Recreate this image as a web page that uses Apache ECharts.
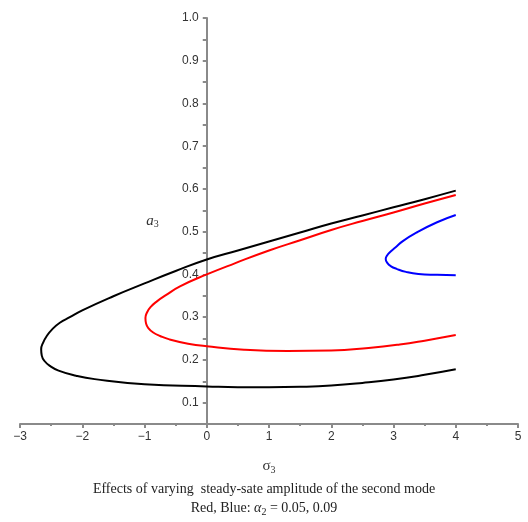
<!DOCTYPE html>
<html><head><meta charset="utf-8">
<script src="https://cdn.jsdelivr.net/npm/echarts@6/dist/echarts.min.js"></script>
<style>html,body{margin:0;padding:0;background:#fff}#c{width:528px;height:522px}</style>
</head><body><div id="c"></div>
<script>
// Data (sigma3, a3)
const blackCurve = [[4.0,0.596],[3.5,0.576],[3.0,0.557],[2.5,0.538],[2.0,0.519],[1.5,0.498],[1.0,0.477],[0.5,0.456],[0,0.435],[-0.5,0.408],[-1.0,0.379],[-1.5,0.349],[-2.0,0.316],[-2.2,0.300],[-2.36,0.287],[-2.48,0.272],[-2.57,0.256],[-2.63,0.240],[-2.66,0.225],[-2.65,0.210],[-2.61,0.198],[-2.52,0.186],[-2.38,0.175],[-2.1,0.163],[-1.8,0.155],[-1.0,0.143],[0,0.138],[0.5,0.136],[1.0,0.136],[1.5,0.137],[2.0,0.140],[2.5,0.146],[3.0,0.154],[3.5,0.165],[4.0,0.178]];
const redCurve = [[4.0,0.586],[3.5,0.566],[3.0,0.545],[2.5,0.525],[2.0,0.504],[1.5,0.480],[1.0,0.456],[0.45,0.426],[0,0.400],[-0.43,0.372],[-0.65,0.352],[-0.8,0.337],[-0.9,0.324],[-0.96,0.311],[-0.985,0.298],[-0.975,0.285],[-0.935,0.274],[-0.86,0.264],[-0.75,0.256],[-0.6,0.248],[-0.3,0.238],[0,0.232],[0.6,0.224],[1.3,0.221],[2.0,0.222],[2.6,0.228],[3.1,0.236],[3.5,0.245],[4.0,0.258]];
const blueCurve = [[4.0,0.539],[3.7,0.522],[3.37,0.498],[3.15,0.478],[3.03,0.463],[2.95,0.453],[2.9,0.445],[2.875,0.436],[2.9,0.427],[2.96,0.419],[3.05,0.413],[3.2,0.406],[3.4,0.401],[3.7,0.399],[4.0,0.398]];
const yLabels = [0.1,0.2,0.3,0.4,0.5,0.6,0.7,0.8,0.9,1.0];
const yTicks = [0.1,0.15,0.2,0.25,0.3,0.35,0.4,0.45,0.5,0.55,0.6,0.65,0.7,0.75,0.8,0.85,0.9,0.95,1.0];
const xMin = -3, xMax = 5, yMin = 0.05, yMax = 1.0;

const W = 528, gLeft = 20, gRight = 10, gTop = 18, gBottom = 98;
const zeroPx = gLeft + (0 - xMin) / (xMax - xMin) * (W - gLeft - gRight);

const chart = echarts.init(document.getElementById('c'));
const axisGray = '#8a8a8a';
const labelStyle = {color:'#333', fontFamily:'Liberation Sans', fontSize:12};
const sub = {fontFamily:'Liberation Serif',fontSize:10,color:'#333',padding:[7,0,0,0]};
chart.setOption({
  animation:false,
  grid:[
    {left:gLeft,right:gRight,top:gTop,bottom:gBottom,outerBoundsMode:'none',containLabel:false},
    {left:zeroPx,width:1,top:gTop,bottom:gBottom,outerBoundsMode:'none',containLabel:false}
  ],
  title:{
    text:'Effects of varying  steady-sate amplitude of the second mode\nRed, Blue: {i|α}{s|2} = 0.05, 0.09',
    left:'center', top:475,
    textStyle:{fontFamily:'Liberation Serif', fontSize:14, fontWeight:'normal', color:'#222', lineHeight:19,
      rich:{i:{fontFamily:'Liberation Serif',fontStyle:'italic',fontSize:14,color:'#222'},
            s:{fontFamily:'Liberation Serif',fontSize:10,color:'#222',padding:[8,0,0,0]}}}
  },
  xAxis:[{
    gridIndex:0, type:'value', min:xMin, max:xMax, interval:1,
    axisLine:{onZero:false, lineStyle:{color:axisGray,width:2}},
    axisTick:{show:true, length:4, lineStyle:{color:axisGray,width:2}},
    minorTick:{show:true, splitNumber:2, length:2, lineStyle:{color:axisGray,width:2}},
    splitLine:{show:false},
    axisLabel:Object.assign({margin:7, formatter:v=>String(v).replace('-','\u2212')}, labelStyle),
    name:'{g|σ}{s|3}', nameLocation:'middle', nameGap:34,
    nameTextStyle:{rich:{g:{fontFamily:'Liberation Serif',fontSize:15,color:'#333'}, s:sub}}
  },{
    gridIndex:1, type:'value', min:0, max:1, show:false
  }],
  yAxis:[{
    gridIndex:0, type:'value', min:yMin, max:yMax, show:false
  },{
    gridIndex:1, type:'value', min:yMin, max:yMax,
    axisLine:{show:true, onZero:false, lineStyle:{color:axisGray,width:2}},
    axisTick:{show:true, length:4, customValues:yTicks, lineStyle:{color:axisGray,width:2}},
    splitLine:{show:false},
    axisLabel:Object.assign({margin:8, customValues:yLabels, formatter:v=>v.toFixed(1)}, labelStyle),
    name:'{a|a}{s|3}', nameLocation:'middle', nameGap:48, nameRotate:0,
    nameTextStyle:{rich:{a:{fontFamily:'Liberation Serif',fontStyle:'italic',fontSize:15,color:'#333'}, s:sub}}
  }],
  series:[
    {type:'line', xAxisIndex:0, yAxisIndex:0, data:blackCurve, smooth:0.5, showSymbol:false, lineStyle:{color:'#000',width:2}},
    {type:'line', xAxisIndex:0, yAxisIndex:0, data:redCurve, smooth:0.5, showSymbol:false, lineStyle:{color:'#ff0000',width:2}},
    {type:'line', xAxisIndex:0, yAxisIndex:0, data:blueCurve, smooth:0.5, showSymbol:false, lineStyle:{color:'#0000ff',width:2}}
  ]
});
</script></body></html>
